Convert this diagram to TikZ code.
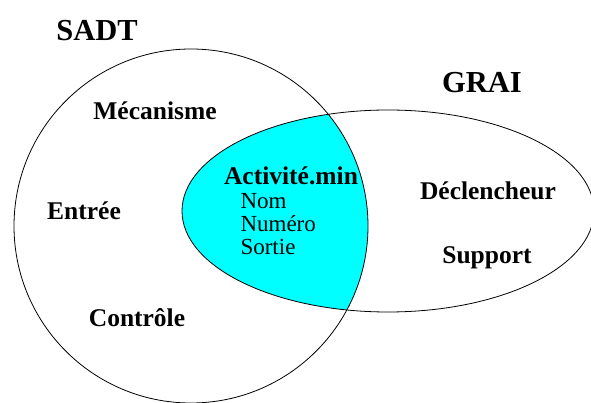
\documentclass[tikz,border=0pt]{standalone}
\usepackage{fontspec}
\setmainfont{Liberation Serif}
\definecolor{actcyan}{RGB}{0,255,255}
\begin{document}
\begin{tikzpicture}[x=1pt, y=-1pt,
		title/.style={font=\bfseries\fontsize{30.5}{32}\selectfont},
		field/.style={font=\bfseries\fontsize{25.5}{27}\selectfont},
		attr/.style={font=\fontsize{23}{23}\selectfont, align=left}]
	\useasboundingbox (0,0) rectangle (591,403);

	% intersection of the two sets
	\begin{scope}
		\clip (191,226) circle[radius=177pt];
		\fill[actcyan] (388,211) ellipse[x radius=206pt, y radius=101pt];
	\end{scope}

	\draw[line width=0.8pt] (191,226) circle[radius=177pt];
	\draw[line width=0.8pt] (388,211) ellipse[x radius=206pt, y radius=101pt];

	\node[title] (sadt) at (97,31) {SADT};
	\node[title] (grai) at (482,83) {GRAI};

	\node[field] (meca) at (155,111) {Mécanisme};
	\node[field] (entree) at (84,211) {Entrée};
	\node[field] (controle) at (137,318) {Contrôle};

	\node[field] (activite) at (291,176) {Activité.min};
	\node[attr, anchor=north west] (attribs) at (237,190) {Nom\\Numéro\\Sortie};

	\node[field] (declencheur) at (488,191) {Déclencheur};
	\node[field] (support) at (487,258) {Support};
\end{tikzpicture}
\end{document}
